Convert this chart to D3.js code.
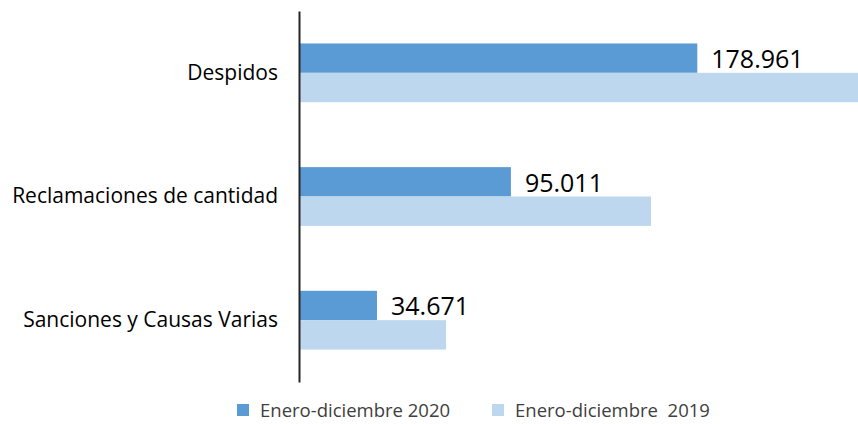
<!DOCTYPE html>
<html>
<head>
  <meta charset="utf-8">
  <title>Asuntos por tipo</title>
  <script src="https://cdnjs.cloudflare.com/ajax/libs/d3/7.8.5/d3.min.js"></script>
  <style>
    body { margin: 0; background: #fff; }
    text { font-family: "Open Sans", sans-serif; }
  </style>
</head>
<body>
<div id="chart"></div>
<script>

var categories = ['Despidos', 'Reclamaciones de cantidad', 'Sanciones y Causas Varias'];
var series = ['Enero-diciembre 2020', 'Enero-diciembre  2019'];
var values2020 = [178961, 95011, 34671];
var values2019 = [252000, 158100, 65800];
var labels2020 = ['178.961', '95.011', '34.671'];
var colors = ['#5b9bd5', '#bdd7ee'];

var width = 858, height = 424;

var svg = d3.select('#chart').append('svg')
  .attr('width', width)
  .attr('height', height);

var x = d3.scaleLinear().domain([0, 250000]).range([300, 855]);

var y = d3.scaleBand()
  .domain(categories)
  .range([11, 382])
  .paddingInner(0.525)
  .paddingOuter(0.2625);

var ySub = d3.scaleBand()
  .domain(series)
  .range([0, y.bandwidth()]);

var rows = categories.map(function(c, i) {
  return { cat: c, vals: [values2020[i], values2019[i]], label: labels2020[i] };
});

var groups = svg.selectAll('g.cat')
  .data(rows)
  .enter()
  .append('g')
  .attr('class', 'cat')
  .attr('transform', function(d) { return 'translate(0,' + y(d.cat) + ')'; });

groups.selectAll('rect')
  .data(function(d) { return d.vals.map(function(v, j) { return { s: series[j], v: v, c: colors[j] }; }); })
  .enter()
  .append('rect')
  .attr('x', x(0))
  .attr('y', function(d) { return ySub(d.s); })
  .attr('width', function(d) { return x(d.v) - x(0); })
  .attr('height', ySub.bandwidth())
  .attr('fill', function(d) { return d.c; });

// value labels, only for 2020
groups.append('text')
  .attr('x', function(d) { return x(d.vals[0]) + 14; })
  .attr('y', ySub(series[0]) + ySub.bandwidth() / 2)
  .attr('dy', '0.4em')
  .attr('font-size', 25)
  .attr('fill', '#000')
  .text(function(d) { return d.label; });

// category axis
var yAxis = d3.axisLeft(y).tickSize(0).tickPadding(21);
var ga = svg.append('g')
  .attr('transform', 'translate(299,0)')
  .call(yAxis);
ga.select('.domain').attr('stroke', '#262626').attr('stroke-width', 2);
ga.selectAll('text')
  .attr('font-size', 21)
  .attr('font-family', '"Open Sans", sans-serif')
  .attr('fill', '#000');

// legend
var legendX = [237, 492];
var leg = svg.selectAll('g.leg')
  .data(series)
  .enter()
  .append('g')
  .attr('class', 'leg')
  .attr('transform', function(d, i) { return 'translate(' + legendX[i] + ',404)'; });
leg.append('rect')
  .attr('width', 12).attr('height', 12)
  .attr('fill', function(d, i) { return colors[i]; });
leg.append('text')
  .attr('x', 23)
  .attr('y', 6)
  .attr('dy', '0.36em')
  .attr('font-size', 18.5)
  .attr('fill', '#404040')
  .style('white-space', 'pre')
  .text(function(d) { return d; });

</script>
</body>
</html>
